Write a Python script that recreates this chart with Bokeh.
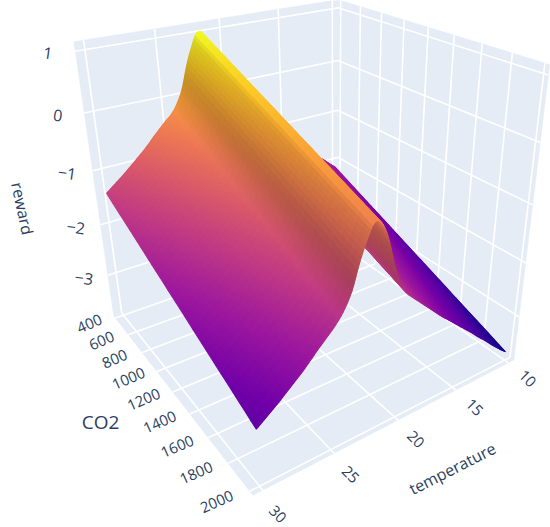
import numpy as np
from bokeh.plotting import figure
from bokeh.models import ColumnDataSource, Range1d
from bokeh.core.properties import value
from bokeh.embed import file_html
from bokeh.resources import INLINE

# ---- chart data -------------------------------------------------------
temperature = [10,10.5,11,11.5,12,12.5,13,13.5,14,14.5,15,15.5,16,16.5,17,17.5,18,18.5,19,19.5,
               20,20.5,21,21.5,22,22.5,23,23.5,24,24.5,25,25.5,26,26.5,27,27.5,28,28.5,29,29.5,30]
co2 = [400, 2000]
reward_co2_400 = [-2.15,-2.06,-1.96,-1.87,-1.78,-1.68,-1.59,-1.49,-1.40,-1.31,-1.21,-1.12,-1.02,-0.93,-0.84,-0.74,-0.65,-0.53,-0.42,-0.30,
                  -0.10,0.25,0.68,0.95,1.00,0.78,0.48,0.10,-0.14,-0.30,-0.40,-0.51,-0.62,-0.74,-0.85,-0.95,-1.05,-1.15,-1.24,-1.33,-1.42]
reward_co2_2000 = [-3.68,-3.59,-3.49,-3.39,-3.28,-3.18,-3.08,-2.97,-2.87,-2.77,-2.67,-2.57,-2.47,-2.37,-2.26,-2.15,-2.04,-1.93,-1.82,-1.70,
                   -1.50,-1.15,-0.72,-0.47,-0.42,-0.64,-0.94,-1.32,-1.56,-1.72,-1.84,-1.95,-2.06,-2.18,-2.29,-2.39,-2.49,-2.59,-2.68,-2.77,-2.86]
temp_ticks = [10,15,20,25,30]
co2_ticks = [400,600,800,1000,1200,1400,1600,1800,2000]
reward_ticks = [1,0,-1,-2,-3]
reward_labels = ["1","0","\u22121","\u22122","\u22123"]
plasma = ["#0d0887","#46039f","#7201a8","#9c179e","#bd3786","#d8576b","#ed7953","#fb9f3a","#fdca26","#f0f921"]

# ---- scene box and camera ----------------------------------------------
T0, T1 = 9.45, 30.65
C0, C1 = 372.0, 2028.0
Z0, Z1 = -3.85, 1.15
calib_world = [(T1,C0,Z0),(T1,C1,Z0),(T0,C1,Z0),(T0,C0,Z0),(T1,C0,Z1),(T0,C1,Z1),(T0,C0,Z1)]
calib_image = [(113,316),(253,494),(513,361),(337,236),(73,41),(549,63),(338,0)]

def solve_camera(world, image):
    rows = []
    for (X,Y,Z),(u,v) in zip(world,image):
        X,Y,Z = (X-T0)/(T1-T0),(Y-C0)/(C1-C0),(Z-Z0)/(Z1-Z0)
        rows.append([X,Y,Z,1,0,0,0,0,-u*X,-u*Y,-u*Z,-u])
        rows.append([0,0,0,0,X,Y,Z,1,-v*X,-v*Y,-v*Z,-v])
    _,_,vt = np.linalg.svd(np.array(rows,float))
    P = vt[-1].reshape(3,4)
    if P[2,3] < 0: P = -P
    return P
P = solve_camera(calib_world, calib_image)

def project(t,c,z):
    t,c,z = np.asarray(t,float),np.asarray(c,float),np.asarray(z,float)
    X = np.stack([(t-T0)/(T1-T0),(c-C0)/(C1-C0),(z-Z0)/(Z1-Z0),np.ones_like(t*c*z)],axis=-1)
    h = X@P.T
    return h[...,0]/h[...,2],h[...,1]/h[...,2],h[...,2]

p = figure(width=550,height=527,x_range=Range1d(0,550),y_range=Range1d(527,0),
           output_backend="svg",toolbar_location=None,min_border=0,outline_line_color=None)
p.xaxis.visible=False; p.yaxis.visible=False; p.grid.visible=False
p.background_fill_color="white"; p.border_fill_color="white"

# walls
WALL="#E5ECF6"
walls=[[(T0,C0,Z0),(T1,C0,Z0),(T1,C0,Z1),(T0,C0,Z1)],
       [(T0,C0,Z0),(T0,C1,Z0),(T0,C1,Z1),(T0,C0,Z1)],
       [(T0,C0,Z0),(T1,C0,Z0),(T1,C1,Z0),(T0,C1,Z0)]]
for w in walls:
    a=np.array(w); x,y,_=project(a[:,0],a[:,1],a[:,2])
    p.patch(list(x),list(y),fill_color=WALL,line_color=WALL,line_width=0.5)

segs=[]
for t in temp_ticks:
    segs.append([(t,C0,Z0),(t,C0,Z1)]); segs.append([(t,C0,Z0),(t,C1,Z0)])
for c in co2_ticks:
    segs.append([(T0,c,Z0),(T0,c,Z1)]); segs.append([(T0,c,Z0),(T1,c,Z0)])
for z in reward_ticks:
    segs.append([(T0,C0,z),(T1,C0,z)]); segs.append([(T0,C0,z),(T0,C1,z)])
xs,ys=[],[]
for s in segs:
    a=np.array(s); x,y,_=project(a[:,0],a[:,1],a[:,2]); xs.append(list(x)); ys.append(list(y))
p.multi_line(xs,ys,line_color="white",line_width=1.6)

# surface
def hex2rgb(h): return np.array([int(h[i:i+2],16) for i in (1,3,5)],float)
stops=np.array([hex2rgb(h) for h in plasma])
def cmap(f):
    f=np.clip(f,0,1)*(len(stops)-1); i=np.minimum(f.astype(int),len(stops)-2); k=(f-i)[...,None]
    return stops[i]*(1-k)+stops[i+1]*k
def refine(v,m):
    # Catmull-Rom through the read values: only smooths the drawn facets
    v=np.asarray(v,float); e=np.r_[2*v[0]-v[1],v,2*v[-1]-v[-2]]; out=[]
    for i in range(1,len(e)-2):
        for s in np.arange(m)/m:
            a,b,c,d=e[i-1],e[i],e[i+1],e[i+2]
            out.append(0.5*((2*b)+(c-a)*s+(2*a-5*b+4*c-d)*s*s+(3*b-a-3*c+d)*s**3))
    out.append(v[-1]); return np.array(out)

UP_T=4; N_C=36
tf=refine(temperature,UP_T); z0f=refine(reward_co2_400,UP_T); z1f=refine(reward_co2_2000,UP_T)
fc=np.linspace(0,1,N_C+1); cf=co2[0]+(co2[1]-co2[0])*fc
TT,CC=np.meshgrid(tf,cf,indexing="ij")
ZZ=z0f[:,None]*(1-fc)+z1f[:,None]*fc
SX,SY,SW=project(TT,CC,ZZ)
zmin,zmax=ZZ.min(),ZZ.max()
dzdt=np.gradient(ZZ,axis=0)/np.gradient(TT,axis=0)*(T1-T0)/(Z1-Z0)
dzdc=(z1f-z0f)[:,None]/(Z1-Z0)*(C1-C0)/(co2[1]-co2[0])*np.ones_like(ZZ)
NZ=1/np.sqrt(1+dzdt**2+dzdc**2)
AMBIENT,DIFFUSE=0.60,0.68
px,py,cols,dep=[],[],[],[]
for i in range(len(tf)-1):
    for j in range(N_C):
        ids=[(i,j),(i+1,j),(i+1,j+1),(i,j+1)]
        px.append([round(float(SX[k]),2) for k in ids]); py.append([round(float(SY[k]),2) for k in ids])
        shade=min(1.0,AMBIENT+DIFFUSE*np.mean([NZ[k] for k in ids]))
        zc=np.mean([ZZ[k] for k in ids])
        rgb=cmap(np.array((zc-zmin)/(zmax-zmin)))*shade
        cols.append("#%02x%02x%02x"%tuple(int(round(v)) for v in rgb))
        dep.append(np.mean([SW[k] for k in ids]))
order=np.argsort(dep)[::-1]
src=ColumnDataSource(dict(xs=[px[i] for i in order],ys=[py[i] for i in order],c=[cols[i] for i in order]))
p.patches("xs","ys",source=src,fill_color="c",line_color="c",line_width=1.1)

# text
FONT=value("Open Sans"); TXT="#2a3f5f"
def label(x,y,txt,size,deg):
    p.text(x=x,y=y,text=txt,text_font=FONT,text_font_size=size,text_color=TXT,
           angle=np.deg2rad(deg),text_align="center",text_baseline="middle")
x,y,_=project(np.full(len(co2_ticks),T1+1.9),np.array(co2_ticks)-30,np.full(len(co2_ticks),Z0))
label(list(x),list(y),[str(c) for c in co2_ticks],"15px",24)
x,y,_=project(np.array(temp_ticks)+0.2,np.full(len(temp_ticks),C1+150),np.full(len(temp_ticks),Z0))
label(list(x),list(y),[str(t) for t in temp_ticks],"15px",-45)
x,y,_=project(np.full(len(reward_ticks),T1+1.6),np.full(len(reward_ticks),C0-50),reward_ticks)
label(list(x),list(y),reward_labels,"16px",-8)
label([100],[421],["CO2"],"19px",0)
label([22],[208],["reward"],"16px",-78)
label([452],[468],["temperature"],"16px",27)

open("out.html","w").write(file_html(p,INLINE))
